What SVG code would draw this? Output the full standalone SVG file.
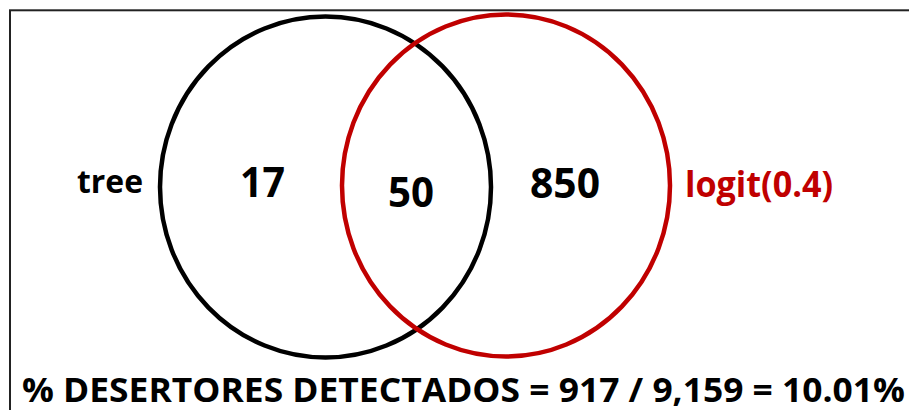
<svg xmlns="http://www.w3.org/2000/svg" width="909" height="410" viewBox="0 0 909 410">
<style>
.t{font-family:"Open Sans","Noto Sans","Liberation Sans",sans-serif;font-weight:bold;}
.blk{fill:#000;}
.red{fill:#C00000;}
.ring{fill:none;stroke-width:4.5;}
</style>
<rect x="0" y="0" width="909" height="410" fill="#fff"/>
<rect x="10" y="10.3" width="920" height="420" fill="none" stroke="#222" stroke-width="2"/>
<g id="set-tree">
<ellipse class="ring" cx="325.5" cy="187" rx="165.5" ry="170.5" stroke="#000"/>
<text class="t blk" x="77" y="193" font-size="33" textLength="66" lengthAdjust="spacingAndGlyphs">tree</text>
</g>
<g id="set-logit">
<ellipse class="ring" cx="506" cy="185.5" rx="164" ry="171" stroke="#C00000"/>
<text class="t red" x="685" y="197" font-size="35" textLength="148" lengthAdjust="spacingAndGlyphs">logit(0.4)</text>
</g>
<g id="region-tree-only">
<text class="t blk" x="240" y="197" font-size="41" textLength="45" lengthAdjust="spacingAndGlyphs">17</text>
</g>
<g id="region-both">
<text class="t blk" x="388" y="207" font-size="41" textLength="46" lengthAdjust="spacingAndGlyphs">50</text>
</g>
<g id="region-logit-only">
<text class="t blk" x="530" y="198" font-size="41" textLength="70" lengthAdjust="spacingAndGlyphs">850</text>
</g>
<g id="connectors"></g>
<g id="caption">
<text class="t blk" x="22" y="402" font-size="34" textLength="883" lengthAdjust="spacingAndGlyphs">% DESERTORES DETECTADOS = 917 / 9,159 = 10.01%</text>
</g>
</svg>
